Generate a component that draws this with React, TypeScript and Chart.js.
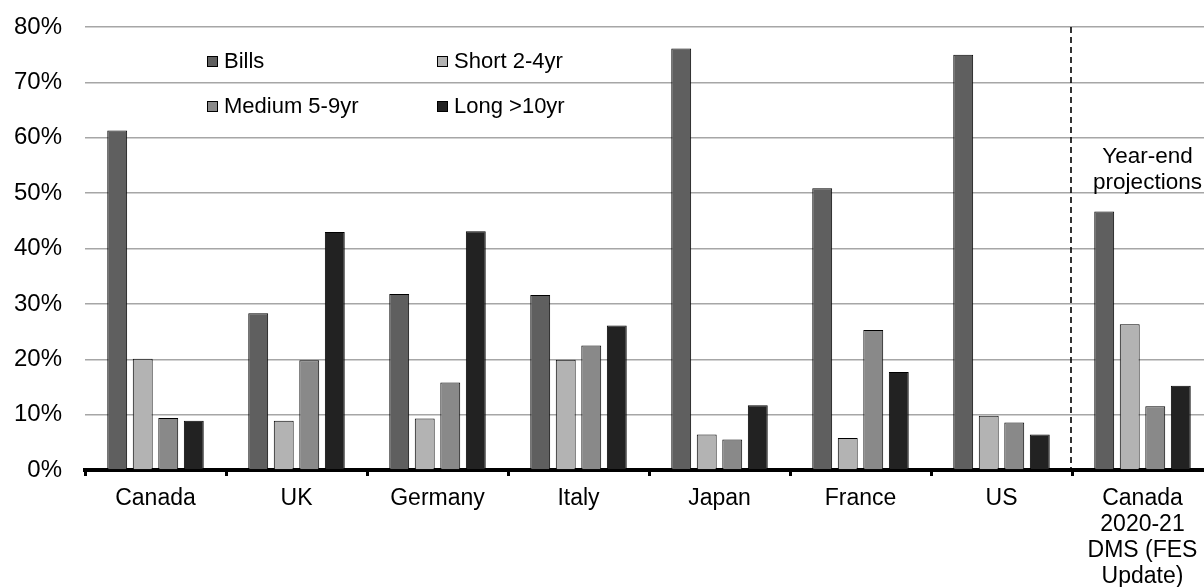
import React, { useEffect, useRef } from "react";
import { Chart, registerables } from "chart.js";

Chart.register(...registerables);

const categories: (string | string[])[] = [
  "Canada",
  "UK",
  "Germany",
  "Italy",
  "Japan",
  "France",
  "US",
  ["Canada", "2020-21", "DMS (FES", "Update)"],
];
const seriesNames = ["Bills", "Short 2-4yr", "Medium 5-9yr", "Long >10yr"];
const bills = [61.3, 28.3, 31.8, 31.6, 76.1, 50.9, 75.0, 46.7];
const short2to4 = [20.1, 8.9, 9.3, 19.9, 6.4, 5.8, 9.8, 26.3];
const medium5to9 = [9.4, 19.8, 15.8, 22.5, 5.5, 25.3, 8.6, 11.5];
const long10 = [8.9, 43.0, 43.1, 26.1, 11.7, 17.7, 6.4, 15.2];
const yTicks = [0, 10, 20, 30, 40, 50, 60, 70, 80];
const annotationLines = ["Year-end", "projections"];

const colors = ["#5f5f5f", "#b3b3b3", "#898989", "#222222"];
const FONT = "Arial, 'Liberation Sans', sans-serif";

const overlayPlugin = {
  id: "overlay",
  afterDraw(chart: any) {
    const ctx = chart.ctx;
    const xs = chart.scales.x;
    const area = chart.chartArea;
    ctx.save();
    // dashed separator between US and projections
    const sepX = Math.round((xs.getPixelForValue(6) + xs.getPixelForValue(7)) / 2) - 1;
    ctx.strokeStyle = "#000";
    ctx.lineWidth = 1.6;
    ctx.setLineDash([6, 4]);
    ctx.beginPath();
    ctx.moveTo(sepX, area.top);
    ctx.lineTo(sepX, area.bottom - 2);
    ctx.stroke();
    ctx.setLineDash([]);

    // annotation text
    ctx.fillStyle = "#000";
    ctx.font = `22.5px ${FONT}`;
    ctx.textAlign = "center";
    ctx.textBaseline = "middle";
    const ax = xs.getPixelForValue(7) + 5;
    annotationLines.forEach((t, i) => {
      ctx.fillText(t, ax, 157 + i * 26);
    });

    // legend (2x2 grid inside plot)
    const cols = [207, 437];
    const rows = [56, 101];
    ctx.font = `22px ${FONT}`;
    ctx.textAlign = "left";
    chart.data.datasets.forEach((ds: any, i: number) => {
      const x = cols[i % 2];
      const y = rows[Math.floor(i / 2)];
      ctx.fillStyle = ds.backgroundColor;
      ctx.fillRect(x, y, 11, 11);
      ctx.strokeStyle = "#000";
      ctx.lineWidth = 1;
      ctx.strokeRect(x + 0.5, y + 0.5, 10, 10);
      ctx.fillStyle = "#000";
      ctx.fillText(ds.label, x + 17, y + 6);
    });
    ctx.restore();
  },
};

export default function App() {
  const ref = useRef<HTMLCanvasElement>(null);
  useEffect(() => {
    if (!ref.current) return;
    const seriesData = [bills, short2to4, medium5to9, long10];
    const chart = new Chart(ref.current, {
      type: "bar",
      data: {
        labels: categories,
        datasets: seriesNames.map((name, i) => ({
          label: name,
          data: seriesData[i],
          backgroundColor: colors[i],
          borderColor: "#000",
          borderWidth: 1,
          categoryPercentage: 0.724,
          barPercentage: 0.78,
        })),
      },
      options: {
        responsive: false,
        animation: false,
        devicePixelRatio: 1,
        layout: { padding: { top: 27, right: 3, left: 0, bottom: 0 } },
        plugins: {
          legend: { display: false },
          tooltip: { enabled: false },
        },
        scales: {
          x: {
            offset: true,
            grid: {
              offset: true,
              drawOnChartArea: false,
              drawTicks: true,
              tickLength: 6,
              tickWidth: 3,
              tickColor: "#000",
            },
            border: { display: true, color: "#000", width: 4 },
            ticks: {
              color: "#000",
              font: { family: FONT, size: 23, lineHeight: 1.13 },
              padding: 10,
              maxRotation: 0,
              autoSkip: false,
            },
            afterFit: (s: any) => {
              s.height = 117;
            },
          },
          y: {
            min: 0,
            max: 80,
            afterBuildTicks: (s: any) => {
              s.ticks = yTicks.map((v) => ({ value: v }));
            },
            grid: {
              color: "#a6a6a6",
              lineWidth: 1.5,
              drawTicks: false,
            },
            border: { display: false },
            ticks: {
              color: "#000",
              font: { family: FONT, size: 24 },
              padding: 23,
              callback: (v: any) => `${v}%`,
            },
            afterFit: (s: any) => {
              s.width = 85;
              s.paddingTop = 0;
              s.paddingBottom = 0;
            },
          },
        },
      },
      plugins: [overlayPlugin],
    });
    return () => chart.destroy();
  }, []);
  return (
    <div
      style={{
        position: "fixed",
        left: 0,
        top: 0,
        width: 1204,
        height: 587,
        overflow: "hidden",
        background: "#fff",
      }}
    >
      <canvas ref={ref} width={1216} height={587} style={{ display: "block" }} />
    </div>
  );
}
